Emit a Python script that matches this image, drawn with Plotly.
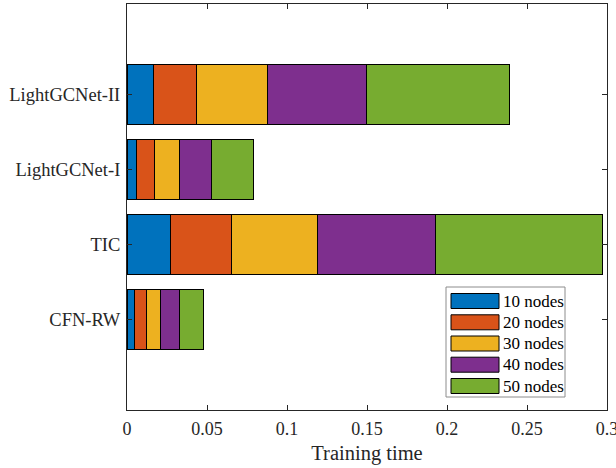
import plotly.graph_objects as go

methods = ["CFN-RW", "TIC", "LightGCNet-I", "LightGCNet-II"]
positions = [1, 2, 3, 4]
series_names = ["10 nodes", "20 nodes", "30 nodes", "40 nodes", "50 nodes"]
colors = ["#0072BD", "#D95319", "#EDB120", "#7E2F8E", "#77AC30"]

# training time per method (order of `methods`) for each node count
t10 = [0.0048, 0.0269, 0.0060, 0.0166]
t20 = [0.0071, 0.0381, 0.0109, 0.0271]
t30 = [0.0089, 0.0539, 0.0160, 0.0442]
t40 = [0.0121, 0.0740, 0.0200, 0.0619]
t50 = [0.0150, 0.1040, 0.0260, 0.0891]
series_values = [t10, t20, t30, t40, t50]

x_ticks = [0, 0.05, 0.1, 0.15, 0.2, 0.25, 0.3]
x_ticktext = ["0", "0.05", "0.1", "0.15", "0.2", "0.25", "0.3"]

FONT = "Liberation Serif, Times New Roman, serif"
AX = "#262626"

fig = go.Figure()
for name, vals, col in zip(series_names, series_values, colors):
    fig.add_trace(go.Bar(
        x=vals, y=positions, orientation="h", name=name,
        marker=dict(color=col, line=dict(color="black", width=1)),
        width=0.8, showlegend=False,
    ))

# manual MATLAB-style legend
L, T = 127, 4
W, H = 480, 406
def px(x):
    return (x - L) / W
def py(y):
    return (T + H - y) / H

shapes = [dict(type="rect", xref="paper", yref="paper",
               x0=px(446), x1=px(565), y0=py(397), y1=py(287),
               line=dict(color="#8c8c8c", width=1), fillcolor="white", layer="above")]
annotations = []
row_centers = [301, 322.3, 343.5, 364.7, 386]
for name, col, yc in zip(series_names, colors, row_centers):
    shapes.append(dict(type="rect", xref="paper", yref="paper",
                       x0=px(451), x1=px(499), y0=py(yc + 7.5), y1=py(yc - 7.5),
                       line=dict(color="black", width=1), fillcolor=col, layer="above"))
    annotations.append(dict(xref="paper", yref="paper", x=px(501), y=py(yc),
                            xanchor="left", yanchor="middle", text=name, showarrow=False,
                            font=dict(family=FONT, size=17, color="black")))

fig.update_layout(
    width=616, height=468,
    margin=dict(l=L, r=616 - L - W, t=T, b=468 - T - H),
    paper_bgcolor="white", plot_bgcolor="white",
    barmode="stack", bargap=0.2,
    font=dict(family=FONT, size=18, color=AX),
    shapes=shapes, annotations=annotations,
    xaxis=dict(range=[0, 0.3], tickvals=x_ticks, ticktext=x_ticktext,
               ticks="inside", ticklen=5, tickcolor=AX, showline=True, linecolor=AX,
               linewidth=1, mirror="ticks", showgrid=False, zeroline=False,
               automargin=False, ticklabeloverflow="allow", ticklabelstandoff=2,
               tickfont=dict(family=FONT, size=18, color=AX),
               title=dict(text="Training time", font=dict(family=FONT, size=20.5, color=AX), standoff=8)),
    yaxis=dict(range=[-0.2, 5.2], tickvals=positions, ticktext=methods,
               ticks="inside", ticklen=5, tickcolor=AX, showline=True, linecolor=AX,
               linewidth=1, mirror="ticks", showgrid=False, zeroline=False,
               automargin=False, ticklabelstandoff=2,
               tickfont=dict(family=FONT, size=18.5, color=AX)),
)

fig.write_html("out.html", config={"displayModeBar": False},
               post_script="document.body.style.margin='0';document.body.style.overflow='hidden';")
